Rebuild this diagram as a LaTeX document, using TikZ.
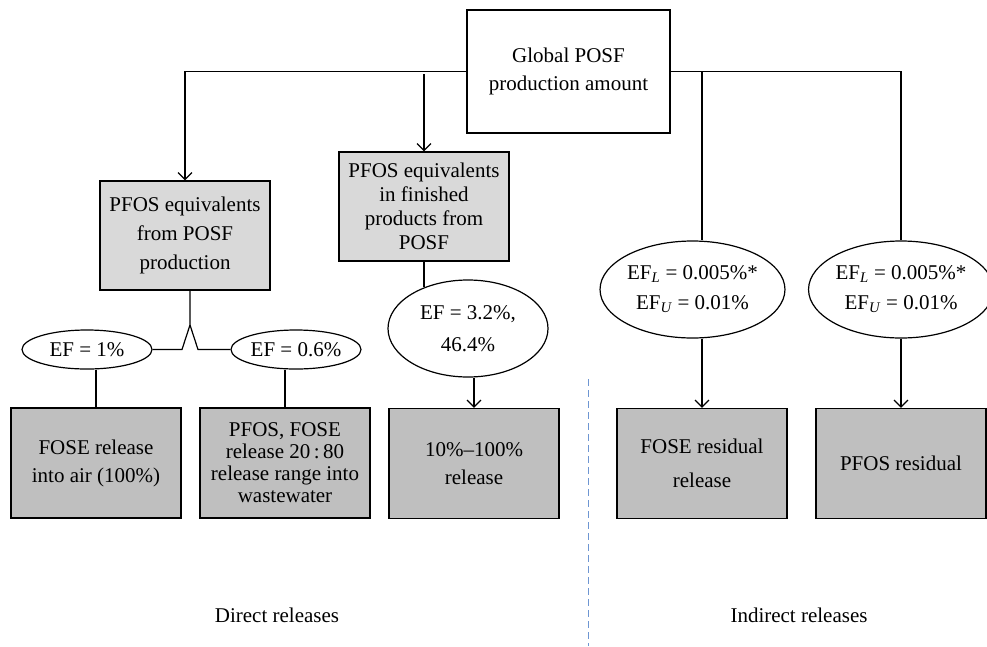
\documentclass[tikz,border=0pt]{standalone}
\usepackage{fontspec}
\setmainfont{Liberation Serif}
\usetikzlibrary{positioning,shapes.geometric,arrows.meta}
\definecolor{divblue}{RGB}{110,150,210}

\begin{document}
\begin{tikzpicture}[x=1pt,y=-1pt,line width=1.2pt,
  every node/.style={font=\fontsize{21}{28}\selectfont},
  arr/.style={-{Straight Barb[length=7pt,width=14pt]}}]
\tikzstyle{box}=[draw, align=center, minimum width=170pt, minimum height=110pt, inner sep=2pt]
\tikzstyle{upbox}=[box, fill=gray!30, minimum height=109pt]
\tikzstyle{lowbox}=[box, fill=gray!50]
\tikzstyle{ef}=[ellipse, draw, align=center, inner sep=0pt]
\useasboundingbox (0,0) rectangle (987,646);
% top
\node[box, minimum width=203pt, minimum height=123pt] (glob) at (568.5,71.5) {Global POSF\\production amount};
\node[upbox, font=\fontsize{21}{29}\selectfont] (pfA) at (185,235.5) {PFOS equivalents\\from POSF\\production};
\node[upbox, font=\fontsize{21}{24}\selectfont] (pfB) at (424,206.5) {PFOS equivalents\\in finished\\products from\\POSF};
% emission factors
\node[ef, minimum width=130pt, minimum height=39pt] (ef1) at (87,349.5) {EF = 1\%};
\node[ef, minimum width=130pt, minimum height=39pt] (ef06) at (296,349.5) {EF = 0.6\%};
\node[ef, minimum width=160pt, minimum height=97pt, font=\fontsize{21}{32}\selectfont] (ef32) at (468,328.5) {EF = 3.2\%,\\46.4\%};
\node[ef, minimum width=171pt, minimum height=97pt, font=\fontsize{21}{30}\selectfont] (efL1) at (692.5,289.5) {EF\textsubscript{\textit{L}} = 0.005\%*\\EF\textsubscript{\textit{U}} = 0.01\%};
\node[ef, minimum width=171pt, minimum height=97pt, font=\fontsize{21}{30}\selectfont] (efL2) at (901,289.5) {EF\textsubscript{\textit{L}} = 0.005\%*\\EF\textsubscript{\textit{U}} = 0.01\%};
% releases
\node[lowbox] (fc) at (96,463) {FOSE release\\into air (100\%)};
\node[lowbox, font=\fontsize{21}{22}\selectfont] (fd) at (285,463) {PFOS, FOSE\\release 20\,:\,80\\release range into\\wastewater};
\node[lowbox] (fe) at (474,463.5) {10\%--100\%\\release};
\node[lowbox, font=\fontsize{21}{34}\selectfont] (ff) at (702,463.5) {FOSE residual\\release};
\node[lowbox] (fg) at (901,463.5) {PFOS residual};
\node (rel1) at (277,615) {Direct releases};
\node (rel2) at (799,615) {Indirect releases};
\coordinate (mid) at (424,74);
\coordinate (fk) at (190,325);
\coordinate (fkL) at (182,349.5);
\coordinate (fkR) at (198,349.5);
\coordinate (dtop) at (588,379);
\coordinate (dbot) at (588,646);
% connectors
\draw[arr] (glob.west) -| (pfA.north);
\draw[arr] (mid) -- (pfB.north);
\draw (glob.east) -| (efL2.north);
\draw (glob.east -| ff.north) -- (efL1.north -| ff.north);
\draw (pfA.south -| fk) -- (fk) -- (fkL) -- (ef1.east);
\draw (fk) -- (fkR) -- (ef06.west);
\draw (ef1.south -| fc.north) -- (fc.north);
\draw (ef06.south -| fd.north) -- (fd.north);
\draw (pfB.south) -- (pfB.south |- ef32.137);
\draw[arr] (ef32.south -| fe.north) -- (fe.north);
\draw[arr] (efL1.south -| ff.north) -- (ff.north);
\draw[arr] (efL2.south) -- (fg.north);
\draw[divblue, line width=1pt, dash pattern=on 7pt off 4pt] (dtop) -- (dbot);
\end{tikzpicture}
\end{document}
